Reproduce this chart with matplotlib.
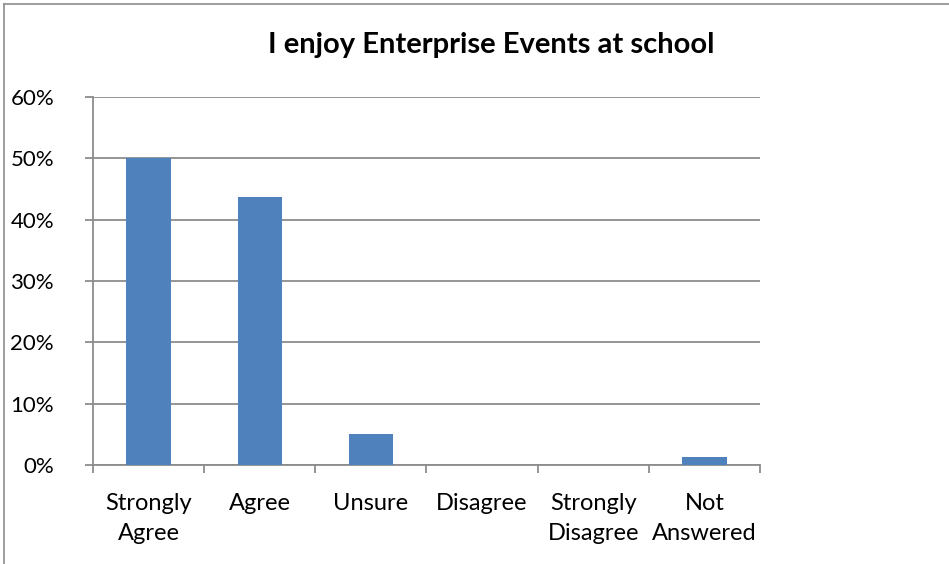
import matplotlib
matplotlib.use("Agg")
import matplotlib.pyplot as plt
from matplotlib.ticker import FuncFormatter, MultipleLocator
from matplotlib.lines import Line2D

categories = ["Strongly\nAgree", "Agree", "Unsure", "Disagree", "Strongly\nDisagree", "Not\nAnswered"]
values = [0.50, 0.4375, 0.05, 0.0, 0.0, 0.0125]
title = "I enjoy Enterprise Events at school"

plt.rcParams['font.family'] = ['Lato', 'DejaVu Sans']

fig = plt.figure(figsize=(9.49, 5.64), dpi=100)
ax = fig.add_axes([93/949, 1-465/564, (760-93)/949, (465-97)/564])

grid_c = "#8c8c8c"
x = list(range(len(categories)))
ax.bar(x, values, width=0.4, color="#4f81bd", zorder=3)
ax.set_xlim(-0.5, len(categories) - 0.5)
ax.set_ylim(0, 0.6)
ax.yaxis.set_major_locator(MultipleLocator(0.1))
ax.yaxis.set_major_formatter(FuncFormatter(lambda v, p: f"{v*100:.0f}%"))
ax.grid(axis='y', color=grid_c, linewidth=1.3, zorder=0)
ax.set_axisbelow(True)

for s in ['top', 'right']:
    ax.spines[s].set_visible(False)
for s in ['left', 'bottom']:
    ax.spines[s].set_color(grid_c)
    ax.spines[s].set_linewidth(1.3)

ax.set_xticks(x)
ax.set_xticklabels(categories, fontsize=17, linespacing=1.55)
ax.tick_params(axis='x', length=0, pad=20)
ax.set_xticks([i - 0.5 for i in range(len(categories) + 1)], minor=True)
ax.tick_params(axis='x', which='minor', length=6, width=1.3, color=grid_c)
ax.tick_params(axis='y', length=6, width=1.3, color=grid_c, labelsize=16, pad=22)

fig.text(491/949, 1-45/564, title, ha='center', va='center', fontsize=21, fontweight='bold')

# chart border (partially visible)
fig.add_artist(Line2D([4/949, 4/949], [0, 1-4/564], color="#8c8c8c", linewidth=1.2, transform=fig.transFigure))
fig.add_artist(Line2D([4/949, 1], [1-4/564, 1-4/564], color="#8c8c8c", linewidth=1.2, transform=fig.transFigure))

fig.savefig("out.png", dpi=100)
